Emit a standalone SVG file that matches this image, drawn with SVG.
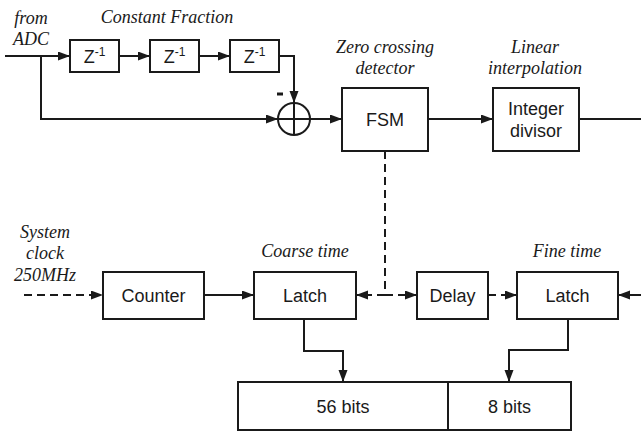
<svg xmlns="http://www.w3.org/2000/svg" width="641" height="431" viewBox="0 0 641 431">
  <style>
    .box { fill: #fff; stroke: #1a1a1a; stroke-width: 2; }
    .wire { fill: none; stroke: #1a1a1a; stroke-width: 2; }
    .dash { stroke-dasharray: 8 5; }
    .lbl { font-family: "Liberation Sans", Arial, sans-serif; font-size: 18px; fill: #1a1a1a; text-anchor: middle; }
    .cap { font-family: "Liberation Serif", "Times New Roman", serif; font-style: italic; font-size: 18px; fill: #1a1a1a; text-anchor: middle; }
  </style>
  <defs>
    <marker id="arr" markerUnits="userSpaceOnUse" markerWidth="13" markerHeight="10" refX="12" refY="4.5" orient="auto">
      <path d="M0,0 L12,4.5 L0,9 z" fill="#1a1a1a"/>
    </marker>
  </defs>
  <rect width="641" height="431" fill="#fff"/>

  <!-- captions -->
  <g id="captions">
    <text class="cap" x="31" y="24">from</text>
    <text class="cap" x="31" y="45">ADC</text>
    <text class="cap" x="167" y="23">Constant Fraction</text>
    <text class="cap" x="385" y="53">Zero crossing</text>
    <text class="cap" x="385" y="74">detector</text>
    <text class="cap" x="535" y="53">Linear</text>
    <text class="cap" x="535" y="74">interpolation</text>
    <text class="cap" x="45" y="238">System</text>
    <text class="cap" x="45" y="259">clock</text>
    <text class="cap" x="45" y="281">250MHz</text>
    <text class="cap" x="305" y="257">Coarse time</text>
    <text class="cap" x="567" y="257">Fine time</text>
  </g>

  <!-- connectors -->
  <g id="connectors">
    <path class="wire" d="M5,56 H70" marker-end="url(#arr)"/>
    <path class="wire" d="M119,56 H150" marker-end="url(#arr)"/>
    <path class="wire" d="M199,56 H230" marker-end="url(#arr)"/>
    <path class="wire" d="M279,56 H294 V103" marker-end="url(#arr)"/>
    <path class="wire" d="M41,56 V119 H278" marker-end="url(#arr)"/>
    <path class="wire" d="M310,119 H342" marker-end="url(#arr)"/>
    <path class="wire" d="M428,119 H493" marker-end="url(#arr)"/>
    <path class="wire" d="M579,119 H641"/>
    <path class="wire dash" d="M385,151 V295"/>
    <path class="wire dash" d="M385,295 H356" marker-end="url(#arr)"/>
    <path class="wire dash" d="M385,295 H417" marker-end="url(#arr)"/>
    <path class="wire dash" d="M488,295 H517" marker-end="url(#arr)"/>
    <path class="wire dash" d="M24,295 H103" marker-end="url(#arr)"/>
    <path class="wire" d="M204,295 H254" marker-end="url(#arr)"/>
    <path class="wire" d="M641,295 H618" marker-end="url(#arr)"/>
    <path class="wire" d="M304,319 V351 H343 V382" marker-end="url(#arr)"/>
    <path class="wire" d="M568,319 V350 H509 V382" marker-end="url(#arr)"/>
  </g>

  <!-- delay line -->
  <g id="z1">
    <rect class="box" x="70" y="40" width="49" height="32"/>
    <text class="lbl" x="94.5" y="63">Z<tspan font-size="12" dy="-7">-1</tspan></text>
  </g>
  <g id="z2">
    <rect class="box" x="150" y="40" width="49" height="32"/>
    <text class="lbl" x="174.5" y="63">Z<tspan font-size="12" dy="-7">-1</tspan></text>
  </g>
  <g id="z3">
    <rect class="box" x="230" y="40" width="49" height="32"/>
    <text class="lbl" x="254.5" y="63">Z<tspan font-size="12" dy="-7">-1</tspan></text>
  </g>

  <!-- summing junction -->
  <g id="sum">
    <circle class="box" cx="294" cy="119" r="16"/>
    <path class="wire" d="M278,119 H310 M294,103 V135"/>
    <path d="M277,94 H283" stroke="#1a1a1a" stroke-width="3"/>
  </g>

  <g id="fsm">
    <rect class="box" x="342" y="88" width="86" height="63"/>
    <text class="lbl" x="385" y="126">FSM</text>
  </g>
  <g id="divisor">
    <rect class="box" x="493" y="88" width="86" height="63"/>
    <text class="lbl" x="536" y="115">Integer</text>
    <text class="lbl" x="536" y="137">divisor</text>
  </g>

  <g id="counter">
    <rect class="box" x="103" y="272" width="101" height="47"/>
    <text class="lbl" x="153.5" y="302">Counter</text>
  </g>
  <g id="latch-coarse">
    <rect class="box" x="254" y="272" width="102" height="47"/>
    <text class="lbl" x="305" y="302">Latch</text>
  </g>
  <g id="delay">
    <rect class="box" x="417" y="272" width="71" height="47"/>
    <text class="lbl" x="452.5" y="302">Delay</text>
  </g>
  <g id="latch-fine">
    <rect class="box" x="517" y="272" width="101" height="47"/>
    <text class="lbl" x="567.5" y="302">Latch</text>
  </g>

  <g id="word-coarse">
    <rect class="box" x="238" y="382" width="210" height="48"/>
    <text class="lbl" x="343" y="413">56 bits</text>
  </g>
  <g id="word-fine">
    <rect class="box" x="448" y="382" width="123" height="48"/>
    <text class="lbl" x="509.5" y="413">8 bits</text>
  </g>
</svg>
